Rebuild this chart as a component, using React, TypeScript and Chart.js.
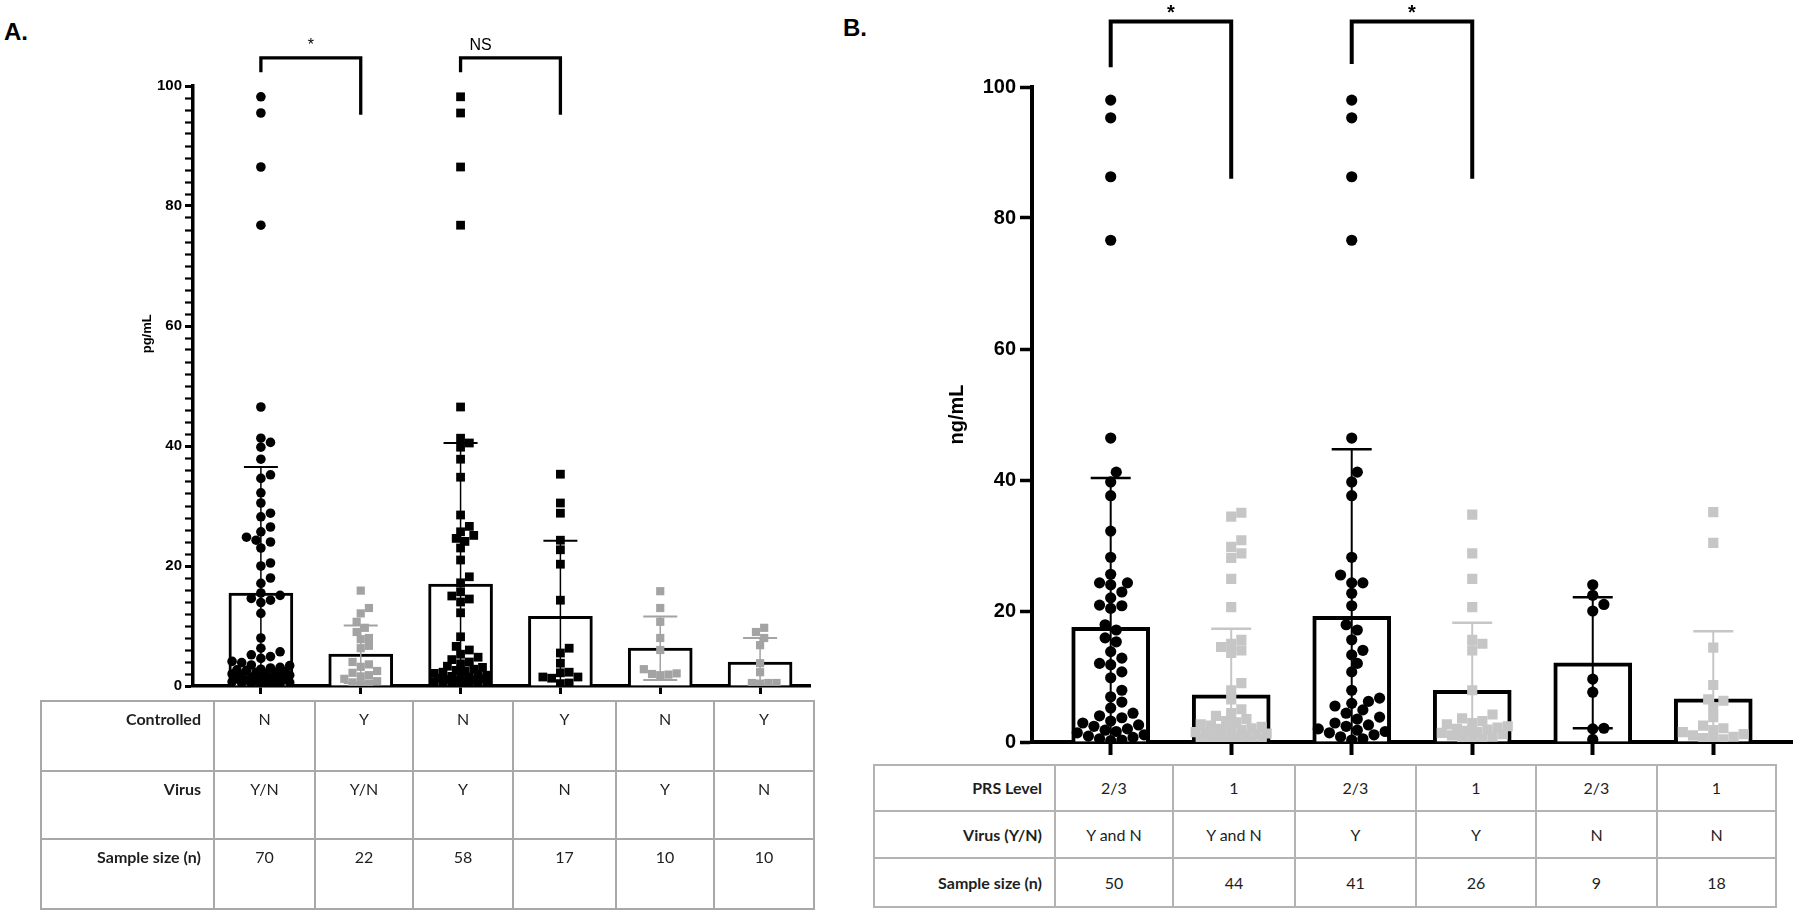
import React, { useEffect, useRef } from 'react';
import { Chart, registerables } from 'chart.js';

Chart.register(...registerables);

// ---------- shared ----------
const CATS = [1, 2, 3, 4, 5, 6];
const Y_LABEL_TICKS = [0, 20, 40, 60, 80, 100];
const A_MINOR_STEP = 2;

// ---------- Panel A (pg/mL) ----------
const A_MEAN = [15.5, 5.3, 17.0, 11.6, 6.3, 4.0];
const A_SD = [21.0, 4.8, 23.5, 12.6, 5.3, 4.0];

const A_G1 = [98.2, 95.5, 86.5, 76.8, 46.5, 41.3, 40.6, 39.8, 37.8, 35.2,
  34.6, 32.2, 30.5, 28.8, 28.2, 26.5, 25.7, 24.8, 24.3, 24.0,
  23.0, 20.5, 20.0, 18.0, 17.1, 15.5, 15.1, 14.6, 14.3, 13.9,
  12.1, 8.0, 6.3, 5.7, 5.2, 4.9, 4.6, 4.1, 3.9, 3.5,
  3.4, 3.1, 3.0, 2.8, 2.7, 2.6, 2.4, 2.3, 2.3, 2.1,
  2.0, 1.9, 1.8, 1.7, 1.5, 1.5, 1.4, 1.2, 1.1, 1.0,
  0.9, 0.8, 0.8, 0.7, 0.6, 0.5, 0.4, 0.4, 0.3, 0.2];
const A_G2 = [15.9, 13.0, 12.1, 10.7, 9.7, 9.0, 8.0, 7.8, 6.7, 6.3, 4.0,
  3.6, 3.2, 2.5, 2.2, 1.8, 1.6, 1.2, 0.8, 0.6, 0.4, 0.3];
const A_G3 = [98.2, 95.5, 86.5, 76.8, 46.5, 41.3, 40.5, 39.8, 37.8, 34.8,
  28.5, 26.6, 25.7, 25.1, 24.6, 24.1, 23.0, 21.0, 18.2, 17.2,
  15.7, 15.0, 14.5, 14.0, 12.2, 8.2, 6.6, 6.0, 5.3, 4.8,
  4.4, 4.0, 3.7, 3.3, 3.1, 2.8, 2.6, 2.5, 2.3, 2.1,
  1.9, 1.8, 1.6, 1.5, 1.4, 1.3, 1.2, 1.1, 1.0, 0.9,
  0.8, 0.7, 0.6, 0.5, 0.4, 0.4, 0.3, 0.2];
const A_G4 = [35.3, 30.5, 28.8, 24.3, 22.7, 20.3, 14.3, 6.3, 5.5, 3.8, 2.3, 2.2, 1.5, 1.5, 1.3, 0.5, 0.4];
const A_G5 = [15.8, 13.0, 10.7, 8.0, 6.0, 2.8, 2.0, 1.9, 2.1, 1.8];
const A_G6 = [9.7, 9.0, 8.0, 6.8, 3.8, 2.3, 0.5, 0.5, 0.4, 0.5];

const A_TABLE = [
  ['Controlled', 'N', 'Y', 'N', 'Y', 'N', 'Y'],
  ['Virus', 'Y/N', 'Y/N', 'Y', 'N', 'Y', 'N'],
  ['Sample size (n)', '70', '22', '58', '17', '10', '10'],
];

// ---------- Panel B (ng/mL) ----------
const B_MEAN = [17.5, 7.2, 19.2, 7.9, 12.1, 6.6];
const B_SD = [22.8, 10.1, 25.5, 10.3, 10.0, 10.3];

const B_G1 = [98.0, 95.3, 86.3, 76.6, 46.4, 41.2, 39.7, 37.6, 32.2, 28.2,
  25.6, 24.3, 24.3, 24.0, 22.9, 22.0, 20.9, 20.8, 20.4, 17.9,
  17.1, 15.9, 15.3, 13.8, 12.8, 12.0, 11.8, 10.7, 9.8, 7.9,
  6.9, 6.1, 5.2, 4.4, 4.0, 3.7, 3.2, 2.9, 2.6, 2.4,
  2.0, 1.8, 1.6, 1.4, 1.1, 0.9, 0.7, 0.5, 0.3, 0.2];
const B_G2 = [35.0, 34.4, 30.8, 29.8, 28.8, 28.1, 24.9, 20.6, 15.6, 15.0, 14.5,
  14.0, 13.6, 9.0, 7.9, 6.5, 5.0, 4.4, 4.0, 3.5, 3.2, 3.0, 2.7, 2.5, 2.3, 2.1,
  2.0, 1.8, 1.7, 1.5, 1.4, 1.3, 1.2, 1.0, 0.9, 0.8, 0.7, 0.6, 0.5, 0.4, 0.3, 0.3, 0.2, 0.1];
const B_G3 = [98.0, 95.3, 86.3, 76.6, 46.4, 41.2, 39.7, 37.6, 28.2, 25.5,
  24.3, 24.3, 22.7, 20.8, 17.9, 17.1, 15.6, 14.0, 13.3, 12.0,
  10.7, 7.9, 6.7, 6.2, 5.9, 5.5, 4.9, 4.4, 3.8, 3.5,
  2.9, 2.6, 2.4, 2.0, 1.8, 1.6, 1.4, 1.1, 0.8, 0.5, 0.3];
const B_G4 = [34.7, 28.8, 24.9, 20.6, 15.6, 15.0, 14.0, 7.9, 4.2, 3.6, 3.2, 2.9, 2.7,
  2.4, 2.2, 2.0, 1.9, 1.7, 1.5, 1.4, 1.2, 1.0, 0.8, 0.6, 0.4, 0.2];
const B_G5 = [24.0, 22.4, 21.0, 20.0, 9.6, 7.6, 2.1, 2.0, 0.4];
const B_G6 = [35.1, 30.4, 14.4, 8.7, 6.5, 6.3, 5.3, 3.8, 2.5, 2.1, 1.8, 1.5, 1.2, 1.0, 0.8, 0.6, 0.4, 0.3];

const B_TABLE = [
  ['PRS Level', '2/3', '1', '2/3', '1', '2/3', '1'],
  ['Virus (Y/N)', 'Y and N', 'Y and N', 'Y', 'Y', 'N', 'N'],
  ['Sample size (n)', '50', '44', '41', '26', '9', '18'],
];

// significance brackets (category indices and y-values)
const A_BRACKETS = [
  { from: 1, to: 2, top: 104.7, leftEnd: 102.3, rightEnd: 95.2, text: '*', textAt: 0.5 },
  { from: 3, to: 4, top: 104.7, leftEnd: 102.3, rightEnd: 95.2, text: 'NS', textAt: 0.2 },
];
const B_BRACKETS = [
  { from: 1, to: 2, top: 110.0, leftEnd: 103.0, rightEnd: 86.0, text: '*', textAt: 0.5 },
  { from: 3, to: 4, top: 110.0, leftEnd: 103.5, rightEnd: 86.0, text: '*', textAt: 0.5 },
];

// ---------- helpers ----------
const BLACK = '#000000';
const GRAY_A = '#a3a3a3';
const GRAY_B = '#c6c6c6';

function swarm(vals: number[], cx: number, xPx: number, yPx: number, diam: number, maxOff: number) {
  const idx = vals.map((_, i) => i).sort((a, b) => vals[a] - vals[b]);
  const placed: { px: number; py: number }[] = [];
  const out: { x: number; y: number }[] = new Array(vals.length);
  const minD = diam * 0.9;
  const step = diam * 0.5;
  for (const i of idx) {
    const py = vals[i] * yPx;
    let best = 0;
    let bestScore = -1;
    for (let k = 0; ; k++) {
      const off = k === 0 ? 0 : (k % 2 ? 1 : -1) * Math.ceil(k / 2) * step;
      if (Math.abs(off) > maxOff) break;
      let md = Infinity;
      for (const q of placed) {
        const d = Math.hypot(q.px - off, q.py - py);
        if (d < md) md = d;
      }
      if (md >= minD) { best = off; bestScore = Infinity; break; }
      if (md > bestScore) { bestScore = md; best = off; }
    }
    placed.push({ px: best, py });
    out[i] = { x: cx + best / xPx, y: vals[i] };
  }
  return out;
}

function buildConfig(p: any) {
  const areaW = p.w - p.padRight - p.yAxisW;
  const areaH = p.h - p.padTop - p.xAxisH;
  const xPx = areaW / (p.xMax - p.xMin);
  const yPx = areaH / 100;

  const datasets: any[] = [];
  datasets.push({
    type: 'bar',
    data: CATS.map((c, i) => ({ x: c, y: p.means[i] })),
    backgroundColor: '#ffffff',
    borderColor: BLACK,
    borderWidth: p.barBorder,
    borderSkipped: 'start',
    barThickness: p.barW,
    grouped: false,
    order: 3,
  });
  p.values.forEach((vals: number[], i: number) => {
    const st = p.styles[i];
    const diam = st.shape === 'circle' ? st.radius * 2 : st.radius * Math.SQRT2;
    datasets.push({
      type: 'scatter',
      data: swarm(vals, CATS[i], xPx, yPx, diam, p.maxSpread),
      pointStyle: st.shape,
      pointRadius: st.radius,
      pointHoverRadius: st.radius,
      backgroundColor: st.color,
      borderColor: st.color,
      borderWidth: 0,
      order: 1,
    });
  });

  const yTickValues: number[] = [];
  for (let v = 0; v <= 100; v += p.yStep) yTickValues.push(v);

  const errPlugin = {
    id: 'errbars',
    afterDatasetDraw(chart: any, args: any) {
      const ds = chart.data.datasets[args.index];
      if (ds.type !== 'bar') return;
      const ctx = chart.ctx;
      const ys = chart.scales.y;
      args.meta.data.forEach((el: any, i: number) => {
        const m = p.means[i];
        const sd = p.sds[i];
        const x = el.x;
        const yTop = ys.getPixelForValue(m + sd);
        const lo = m - sd;
        const yBot = ys.getPixelForValue(Math.max(lo, 0));
        ctx.save();
        ctx.strokeStyle = p.styles[i].errColor;
        ctx.lineWidth = p.errW;
        ctx.beginPath();
        ctx.moveTo(x, yBot);
        ctx.lineTo(x, yTop);
        ctx.stroke();
        ctx.lineWidth = p.capW;
        ctx.beginPath();
        ctx.moveTo(x - p.cap / 2, yTop);
        ctx.lineTo(x + p.cap / 2, yTop);
        if (lo > 0) {
          ctx.moveTo(x - p.cap / 2, yBot);
          ctx.lineTo(x + p.cap / 2, yBot);
        }
        ctx.stroke();
        ctx.restore();
      });
    },
  };

  const annotPlugin = {
    id: 'annot',
    afterDraw(chart: any) {
      const ctx = chart.ctx;
      const xs = chart.scales.x;
      const ys = chart.scales.y;
      ctx.save();
      ctx.strokeStyle = BLACK;
      ctx.fillStyle = BLACK;
      ctx.lineWidth = p.bracketW;
      ctx.lineJoin = 'miter';
      ctx.lineCap = 'butt';
      p.brackets.forEach((b: any) => {
        const x1 = xs.getPixelForValue(b.from);
        const x2 = xs.getPixelForValue(b.to);
        const yt = ys.getPixelForValue(b.top);
        const yl = ys.getPixelForValue(b.leftEnd);
        const yr = ys.getPixelForValue(b.rightEnd);
        ctx.beginPath();
        ctx.moveTo(x1, yl);
        ctx.lineTo(x1, yt);
        ctx.lineTo(x2, yt);
        ctx.lineTo(x2, yr);
        ctx.stroke();
        ctx.font = b.text === '*' ? p.starFont : p.nsFont;
        ctx.textAlign = 'center';
        ctx.textBaseline = 'alphabetic';
        ctx.fillText(b.text, x1 + (x2 - x1) * b.textAt, yt - (b.text === '*' ? p.starGap : p.nsGap));
      });
      ctx.translate(chart.chartArea.left - p.titleOffset, ys.getPixelForValue(p.titleAt));
      ctx.rotate(-Math.PI / 2);
      ctx.textAlign = 'center';
      ctx.textBaseline = 'middle';
      ctx.font = p.titleFont;
      ctx.fillText(p.yTitle, 0, 0);
      ctx.restore();
    },
  };

  return {
    type: 'bar',
    data: { datasets },
    options: {
      responsive: false,
      animation: false,
      devicePixelRatio: 1,
      events: [],
      layout: { padding: { top: p.padTop, right: p.padRight, left: 0, bottom: 0 } },
      plugins: { legend: { display: false }, tooltip: { enabled: false } },
      scales: {
        x: {
          type: 'linear',
          min: p.xMin,
          max: p.xMax,
          offset: false,
          grace: 0,
          afterBuildTicks: (s: any) => { s.ticks = CATS.map((v) => ({ value: v })); },
          afterFit: (s: any) => { s.height = p.xAxisH; },
          grid: { display: true, offset: false, drawOnChartArea: false, drawTicks: true, tickLength: p.xTickLen, tickWidth: p.xTickW, tickColor: BLACK },
          border: { display: true, color: BLACK, width: p.axisW },
          ticks: { display: false },
        },
        y: {
          type: 'linear',
          min: 0,
          max: 100,
          offset: false,
          afterBuildTicks: (s: any) => { s.ticks = yTickValues.map((v) => ({ value: v })); },
          afterFit: (s: any) => { s.width = p.yAxisW; },
          grid: {
            display: true,
            drawOnChartArea: false,
            drawTicks: true,
            tickLength: p.yTickLen,
            tickWidth: (c: any) => (c.tick && Y_LABEL_TICKS.includes(c.tick.value) ? p.yTickW : p.yMinorW),
            tickColor: BLACK,
          },
          border: { display: true, color: BLACK, width: p.axisW },
          ticks: {
            autoSkip: false,
            padding: p.yPad,
            color: BLACK,
            font: { family: 'Liberation Sans, Arial, sans-serif', size: p.yFont, weight: 'bold' },
            callback: (v: any) => (Y_LABEL_TICKS.includes(v) ? String(v) : ''),
          },
        },
      },
    },
    plugins: [errPlugin, annotPlugin],
  };
}

const PANEL_A = {
  left: 0, top: 0, w: 830, h: 720,
  padTop: 86, padRight: 20, yAxisW: 193, xAxisH: 34,
  xMin: 0.32, xMax: 6.5,
  means: A_MEAN, sds: A_SD,
  values: [A_G1, A_G2, A_G3, A_G4, A_G5, A_G6],
  styles: [
    { shape: 'circle', radius: 4.8, color: BLACK, errColor: BLACK },
    { shape: 'rect', radius: 5.8, color: GRAY_A, errColor: GRAY_A },
    { shape: 'rect', radius: 6.2, color: BLACK, errColor: BLACK },
    { shape: 'rect', radius: 6.2, color: BLACK, errColor: BLACK },
    { shape: 'rect', radius: 5.8, color: GRAY_A, errColor: GRAY_A },
    { shape: 'rect', radius: 5.8, color: GRAY_A, errColor: GRAY_A },
  ],
  maxSpread: 30,
  barW: 64, barBorder: 3,
  errW: 1.5, capW: 2, cap: 34,
  axisW: 3.5, xTickLen: 8, xTickW: 3, yTickLen: 8, yTickW: 3, yMinorW: 2.2, yStep: A_MINOR_STEP,
  yPad: 3, yFont: 15,
  brackets: A_BRACKETS, bracketW: 3.3,
  starFont: '16px Liberation Sans, Arial, sans-serif', starGap: 8,
  nsFont: '16px Liberation Sans, Arial, sans-serif', nsGap: 8,
  yTitle: 'pg/mL', titleFont: 'bold 13px Liberation Sans, Arial, sans-serif', titleOffset: 46, titleAt: 58.7,
};

const PANEL_B = {
  left: 830, top: 0, w: 970, h: 760,
  padTop: 87, padRight: 4, yAxisW: 202, xAxisH: 18,
  xMin: 0.347, xMax: 6.66,
  means: B_MEAN, sds: B_SD,
  values: [B_G1, B_G2, B_G3, B_G4, B_G5, B_G6],
  styles: [
    { shape: 'circle', radius: 5.6, color: BLACK, errColor: BLACK },
    { shape: 'rect', radius: 7.2, color: GRAY_B, errColor: GRAY_B },
    { shape: 'circle', radius: 5.6, color: BLACK, errColor: BLACK },
    { shape: 'rect', radius: 7.2, color: GRAY_B, errColor: GRAY_B },
    { shape: 'circle', radius: 5.6, color: BLACK, errColor: BLACK },
    { shape: 'rect', radius: 7.2, color: GRAY_B, errColor: GRAY_B },
  ],
  maxSpread: 40,
  barW: 78, barBorder: 4,
  errW: 2, capW: 2.5, cap: 40,
  axisW: 4, xTickLen: 13, xTickW: 4, yTickLen: 12, yTickW: 3.5, yMinorW: 3.5, yStep: 20,
  yPad: 4, yFont: 20,
  brackets: B_BRACKETS, bracketW: 4,
  starFont: 'bold 20px Liberation Sans, Arial, sans-serif', starGap: 3,
  nsFont: '18px Liberation Sans, Arial, sans-serif', nsGap: 5,
  yTitle: 'ng/mL', titleFont: 'bold 20px Liberation Sans, Arial, sans-serif', titleOffset: 75, titleAt: 50,
};

function PanelChart({ cfg }: { cfg: any }) {
  const ref = useRef<HTMLCanvasElement | null>(null);
  useEffect(() => {
    if (!ref.current) return;
    const chart = new Chart(ref.current, buildConfig(cfg) as any);
    return () => chart.destroy();
  }, [cfg]);
  return (
    <canvas
      ref={ref}
      width={cfg.w}
      height={cfg.h}
      style={{ position: 'absolute', left: cfg.left, top: cfg.top, width: cfg.w, height: cfg.h }}
    />
  );
}

function DataTable({ rows, left, top, colW, rowH, border, valign, padTop }: any) {
  const total = colW.reduce((a: number, b: number) => a + b, 0);
  return (
    <table
      style={{
        position: 'absolute', left, top, width: total, borderCollapse: 'collapse', tableLayout: 'fixed',
        fontFamily: 'Lato, "Open Sans", sans-serif', fontSize: 16, color: '#1e1e1e',
      }}
    >
      <colgroup>
        {colW.map((w: number, i: number) => <col key={i} style={{ width: w }} />)}
      </colgroup>
      <tbody>
        {rows.map((r: string[], ri: number) => (
          <tr key={ri} style={{ height: rowH[ri] }}>
            {r.map((c: string, ci: number) => (
              <td
                key={ci}
                style={{
                  border: `2px solid ${border}`,
                  textAlign: ci === 0 ? 'right' : 'center',
                  fontWeight: ci === 0 ? 700 : 400,
                  verticalAlign: valign,
                  padding: ci === 0 ? `${padTop}px 12px 0 0` : `${padTop}px 0 0 0`,
                  lineHeight: '20px',
                  whiteSpace: 'nowrap',
                }}
              >
                {c}
              </td>
            ))}
          </tr>
        ))}
      </tbody>
    </table>
  );
}

export default function App() {
  return (
    <div
      style={{
        position: 'absolute', left: 0, top: 0, width: 1800, height: 913, background: '#ffffff',
        overflow: 'hidden', fontFamily: 'Liberation Sans, Arial, sans-serif',
      }}
    >
      <div style={{ position: 'absolute', left: 4, top: 20, fontSize: 24, lineHeight: '24px', fontWeight: 700 }}>A.</div>
      <div style={{ position: 'absolute', left: 843, top: 16, fontSize: 24, lineHeight: '24px', fontWeight: 700 }}>B.</div>
      <PanelChart cfg={PANEL_A} />
      <PanelChart cfg={PANEL_B} />
      <DataTable
        rows={A_TABLE}
        left={40}
        top={700}
        colW={[173, 101, 98, 100, 103, 98, 100]}
        rowH={[70, 68, 70]}
        border="#a8a8a8"
        valign="top"
        padTop={7}
      />
      <DataTable
        rows={B_TABLE}
        left={873}
        top={764}
        colW={[181, 118, 122, 121, 120, 121, 119]}
        rowH={[46, 47, 49]}
        border="#b3b3b3"
        valign="middle"
        padTop={0}
      />
    </div>
  );
}
